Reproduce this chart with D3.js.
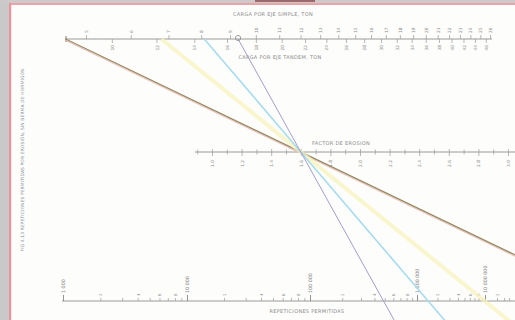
<!DOCTYPE html>
<html><head><meta charset="utf-8">
<script src="https://cdn.jsdelivr.net/npm/d3@7"></script>
<style>body{margin:0;background:#fff}svg{display:block}text{font-family:"DejaVu Sans",sans-serif}</style>
</head><body>
<script>
// ---- data ----
const singleAxleTicks = [5,6,7,8,9,10,11,12,13,14,15,16,17,18,19,20,21,22,23,24,25,26];
const tandemAxleTicks = [10,12,14,16,18,20,22,24,26,28,30,32,34,36,38,40,42,44,46];
const erosionTicks = [1.0,1.2,1.4,1.6,1.8,2.0,2.2,2.4,2.6,2.8,3.0];
const erosionMinorTicks = [0.9,1.1,1.3,1.5,1.7,1.9,2.1,2.3,2.5,2.7,2.9,3.1];
const repetitionDecades = [1000,10000,100000,1000000,10000000];
const repetitionDecadeLabels = ["1 000","10 000","100 000","1 000 000","10 000 000"];
const repetitionMultipliers = [2,3,4,5,6,7,8,9];
const repetitionLabelled = [2,4,6,8];
const exampleNames = ["a","b","c","d"];
const exampleSingleLoad = [4.6, 6.8, 8.1, 9.3];
const examplePivotFactor = [1.6, 1.6, 1.6, 1.6];

// ---- layout ----
const W = 515, H = 320;
const svg = d3.select("body").append("svg").attr("width", W).attr("height", H);
svg.append("rect").attr("width", W).attr("height", H).attr("fill", "#fdfdfb");

// frame
svg.append("rect").attr("x",0).attr("y",0).attr("width",9).attr("height",H).attr("fill","#c9c9c9");
svg.append("rect").attr("x",0).attr("y",0).attr("width",W).attr("height",3).attr("fill","#cfcaca");
svg.append("rect").attr("x",255).attr("y",0).attr("width",60).attr("height",2).attr("fill","#9c6a6a");
svg.append("rect").attr("x",9).attr("y",3).attr("width",W).attr("height",2).attr("fill","#eaa3a8");
svg.append("rect").attr("x",9).attr("y",3).attr("width",2.2).attr("height",H).attr("fill","#e9939b");

const txtCol = "#8c8c8c", axCol = "#9a9a9a";
const fs = 4.4;

// scales
const yTop = 39, yMid = 152, yBot = 301;
const xSingle = d3.scaleLog().domain([5, 26]).range([86, 490]);
const xTandem = d3.scaleLog().domain([5*1.8, 26*1.8]).range([86, 490]);
const xErosion = d3.scaleLinear().domain([1.0, 3.0]).range([212, 508]);
const xRep = d3.scaleLinear().domain([3,4,5,6,7,8]).range([63,187,310,417,485,525]);

function styleAxis(g){
  g.select(".domain").remove();
  g.selectAll(".tick line").attr("stroke", axCol).attr("stroke-width", 0.7);
  g.selectAll(".tick text").attr("fill", txtCol).attr("font-size", fs);
}

// ---- top axis ----
svg.append("line").attr("x1",65).attr("x2",492).attr("y1",yTop).attr("y2",yTop)
  .attr("stroke",axCol).attr("stroke-width",1);
svg.append("line").attr("x1",66).attr("x2",66).attr("y1",yTop-3).attr("y2",yTop+3)
  .attr("stroke","#8d7b66").attr("stroke-width",1);
const gS = svg.append("g").attr("transform",`translate(0,${yTop})`)
  .call(d3.axisTop(xSingle).tickValues(singleAxleTicks).tickSize(4).tickFormat(d3.format("d")));
styleAxis(gS);
gS.selectAll(".tick text").attr("transform","rotate(-90)").attr("text-anchor","start")
  .attr("x",6).attr("y",0).attr("dy","0.35em");
const gT = svg.append("g").attr("transform",`translate(0,${yTop})`)
  .call(d3.axisBottom(xTandem).tickValues(tandemAxleTicks).tickSize(4).tickFormat(d3.format("d")));
styleAxis(gT);
gT.selectAll(".tick text").attr("transform","rotate(-90)").attr("text-anchor","end")
  .attr("x",-6).attr("y",0).attr("dy","0.35em");

svg.append("text").attr("x",273).attr("y",16).attr("text-anchor","middle")
  .attr("font-size",5).attr("fill",txtCol).attr("letter-spacing",0.3).text("CARGA POR EJE SIMPLE, TON");
svg.append("text").attr("x",280).attr("y",59).attr("text-anchor","middle")
  .attr("font-size",5).attr("fill",txtCol).attr("letter-spacing",0.3).text("CARGA POR EJE TANDEM, TON");

// ---- middle axis ----
svg.append("line").attr("x1",195).attr("x2",515).attr("y1",yMid).attr("y2",yMid)
  .attr("stroke",axCol).attr("stroke-width",1);
const gEm = svg.append("g").attr("transform",`translate(0,${yMid})`)
  .call(d3.axisBottom(xErosion).tickValues(erosionMinorTicks).tickSize(2.5).tickFormat(""));
styleAxis(gEm);
gEm.selectAll(".tick line").attr("y1",-2.5);
const gE = svg.append("g").attr("transform",`translate(0,${yMid})`)
  .call(d3.axisBottom(xErosion).tickValues(erosionTicks).tickSize(4).tickFormat(d3.format(".1f")));
styleAxis(gE);
gE.selectAll(".tick line").attr("y1",-3);
gE.selectAll(".tick text").attr("transform","rotate(-90)").attr("text-anchor","end")
  .attr("x",-8).attr("y",0).attr("dy","0.35em");
svg.append("text").attr("x",341).attr("y",145).attr("text-anchor","middle")
  .attr("font-size",5).attr("fill",txtCol).attr("letter-spacing",0.3).text("FACTOR DE EROSION");

// ---- bottom axis ----
svg.append("line").attr("x1",62).attr("x2",515).attr("y1",yBot).attr("y2",yBot)
  .attr("stroke",axCol).attr("stroke-width",1);
const minorVals = [];
repetitionDecades.forEach(d => repetitionMultipliers.forEach(m => {
  if (xRep(Math.log10(d*m)) < 511) minorVals.push({v:d*m, m});
}));
const gRm = svg.append("g").attr("transform",`translate(0,${yBot})`)
  .call(d3.axisTop(xRep).tickValues(minorVals.map(o=>Math.log10(o.v))).tickSize(3)
    .tickFormat((d,i)=> repetitionLabelled.includes(minorVals[i].m) && xRep(d) < 508 ? String(minorVals[i].m) : ""));
styleAxis(gRm);
gRm.selectAll(".tick text").attr("transform","rotate(-90)").attr("text-anchor","start")
  .attr("x",5).attr("y",0).attr("dy","0.35em").attr("font-size",4);
const gR = svg.append("g").attr("transform",`translate(0,${yBot})`)
  .call(d3.axisTop(xRep).tickValues(repetitionDecades.map(Math.log10)).tickSize(6)
    .tickFormat((d,i)=>repetitionDecadeLabels[i]));
styleAxis(gR);
gR.selectAll(".tick line").attr("stroke","#888").attr("stroke-width",0.9);
gR.selectAll(".tick text").attr("transform","rotate(-90)").attr("text-anchor","start")
  .attr("x",8).attr("y",0).attr("dy","0.35em").attr("font-size",4.8);
svg.append("text").attr("x",307).attr("y",313).attr("text-anchor","middle")
  .attr("font-size",5).attr("fill",txtCol).attr("letter-spacing",0.3).text("REPETICIONES PERMITIDAS");

// ---- left caption ----
svg.append("text").attr("transform","translate(24,160) rotate(-90)").attr("text-anchor","middle")
  .attr("font-size",4.4).attr("fill","#7f8a96").attr("letter-spacing",0.15)
  .text("FIG 4.13  REPETICIONES PERMITIDAS POR EROSIÓN, SIN BERMA DE HORMIGÓN");

// ---- example lines ----
const lineStyles = {
  a: [{c:"#ecb0ab", w:0.9, off:1.4},{c:"#948a62", w:1.2, off:0}],
  b: [{c:"#f8f4bf", w:4, off:0, o:0.75}],
  c: [{c:"#a6dcee", w:1.6, off:0}],
  d: [{c:"#a59bd0", w:1, off:0}]
};
svg.append("clipPath").attr("id","cp").append("rect")
  .attr("x",11).attr("y",5).attr("width",W).attr("height",H);
const lg = svg.append("g").attr("clip-path","url(#cp)");
exampleNames.forEach((n,i)=>{
  const x0 = xSingle(exampleSingleLoad[i]), y0 = yTop;
  const xp = xErosion(examplePivotFactor[i]), yp = yMid;
  const slope = (yp - y0)/(xp - x0);
  const yEnd = H + 5, xEnd = xp + (yEnd - yp)/slope;
  lineStyles[n].forEach(s=>{
    lg.append("line").attr("x1",x0).attr("y1",y0 + s.off).attr("x2",xEnd).attr("y2",yEnd + s.off)
      .attr("stroke",s.c).attr("stroke-width",s.w).attr("opacity",s.o||1);
  });
});
// marker circle at the last example start
svg.append("circle").attr("cx",xSingle(exampleSingleLoad[3])).attr("cy",yTop-1).attr("r",2.6)
  .attr("fill","none").attr("stroke","#8a8a8a").attr("stroke-width",0.8);
</script>
</body></html>
